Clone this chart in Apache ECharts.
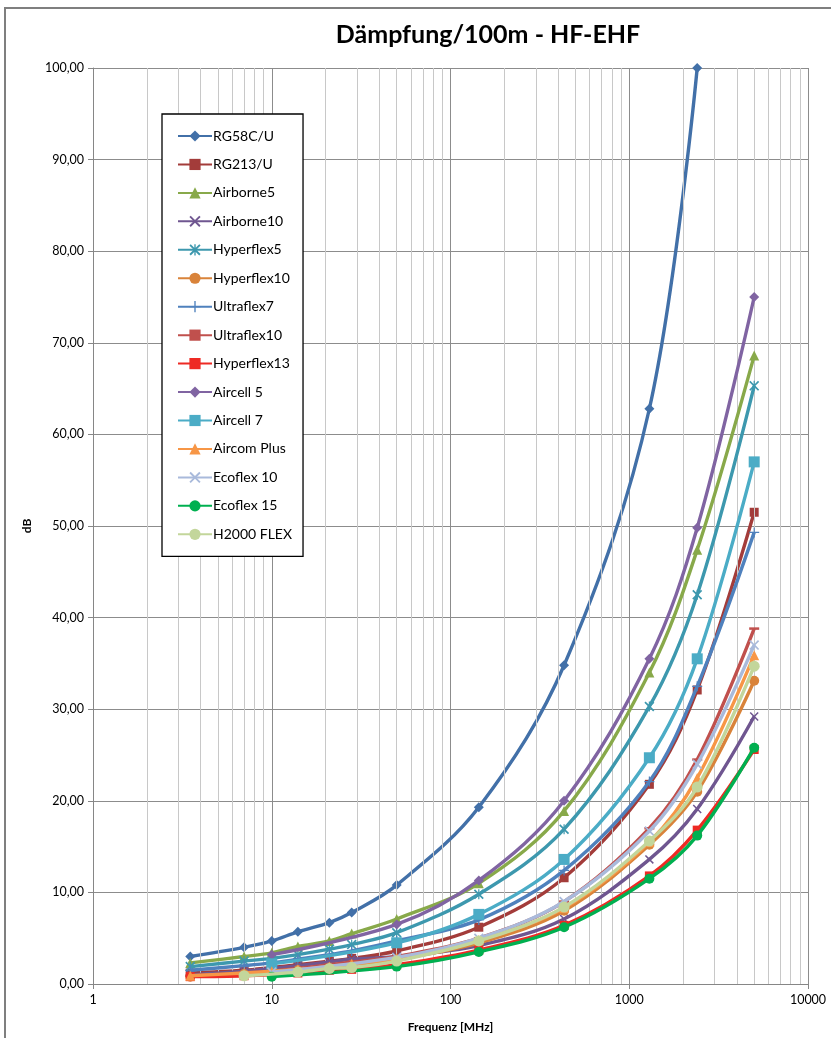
<!DOCTYPE html>
<html><head><meta charset="utf-8">
<script src="https://cdn.jsdelivr.net/npm/echarts@6/dist/echarts.min.js"></script>
<style>html,body{margin:0;padding:0;background:#fff}#c{width:831px;height:1038px}</style>
</head><body><div id="c"></div>
<script>
const freqs = [3.5, 7, 10, 14, 21, 28, 50, 144, 432, 1296, 2400, 5000];
const rg58 =        [3.0, 4.0, 4.7, 5.7, 6.7, 7.8, 10.8, 19.3, 34.8, 62.8, 100, null];
const rg213 =       [1.2, 1.5, 1.8, 2.1, 2.5, 2.8, 3.6, 6.2, 11.6, 21.8, 32.1, 51.5];
const airborne5 =   [2.3, 3.0, 3.4, 4.1, 4.7, 5.5, 7.1, 11.0, 18.9, 34.0, 47.4, 68.6];
const airborne10 =  [1.0, 1.4, 1.7, 2.0, 2.4, 2.7, 3.0, 4.2, 7.1, 13.6, 19.1, 29.2];
const hyperflex5 =  [1.9, 2.5, 2.8, 3.2, 3.8, 4.3, 5.6, 9.8, 16.9, 30.3, 42.5, 65.3];
const hyperflex10 = [0.8, 1.1, 1.3, 1.5, 1.8, 2.1, 2.7, 4.5, 8.0, 15.2, 21.0, 33.1];
const ultraflex7 =  [1.5, 2.0, 2.3, 2.7, 3.2, 3.6, 4.7, 7.0, 12.4, 22.1, 32.5, 49.3];
const ultraflex10 = [0.9, 1.2, 1.4, 1.7, 2.1, 2.4, 3.0, 5.0, 9.0, 17.0, 24.5, 38.8];
const hyperflex13 = [0.8, 0.9, null, 1.2, 1.5, 1.6, 2.1, 3.7, 6.4, 11.8, 16.8, 25.6];
const aircell5 =    [null, null, 3.2, null, null, null, 6.5, 11.3, 20.0, 35.5, 49.8, 75.0];
const aircell7 =    [null, null, 2.2, null, null, null, 4.5, 7.6, 13.6, 24.7, 35.5, 57.0];
const aircomPlus =  [0.9, 1.2, 1.4, 1.6, 1.9, 2.2, 2.8, 4.8, 8.3, 15.5, 22.5, 35.9];
const ecoflex10 =   [null, null, 1.3, null, null, null, 2.9, 5.0, 9.0, 16.7, 24.0, 37.0];
const ecoflex15 =   [null, null, 0.8, null, null, null, 1.9, 3.5, 6.2, 11.5, 16.2, 25.8];
const h2000 =       [null, 0.9, null, 1.3, 1.7, 1.8, 2.5, 4.7, 8.4, 15.6, 21.5, 34.7];
const xTickLabels = [1, 10, 100, 1000, 10000];

const SYM_X = 'path://M0,1.2 L1.2,0 L5,3.8 L8.8,0 L10,1.2 L6.2,5 L10,8.8 L8.8,10 L5,6.2 L1.2,10 L0,8.8 L3.8,5 Z';
const SYM_AST = 'path://M0,1.2 L1.2,0 L5,3.8 L8.8,0 L10,1.2 L6.2,5 L10,8.8 L8.8,10 L5,6.2 L1.2,10 L0,8.8 L3.8,5 Z M4.4,0 L5.6,0 L5.6,10 L4.4,10 Z';
const SYM_PLUS = 'path://M4.4,0 H5.6 V4.4 H10 V5.6 H5.6 V10 H4.4 V5.6 H0 V4.4 H4.4 Z';
const SYM_DASH = 'path://M0,0 H10 V2 H0 Z';

const defs = [
  ['RG58C/U', rg58, '#4270a8', 'diamond', 10],
  ['RG213/U', rg213, '#a33c3a', 'rect', 9],
  ['Airborne5', airborne5, '#88a94a', 'triangle', 10],
  ['Airborne10', airborne10, '#6f5690', SYM_X, 9],
  ['Hyperflex5', hyperflex5, '#3d98ae', SYM_AST, 10],
  ['Hyperflex10', hyperflex10, '#d9833a', 'circle', 10],
  ['Ultraflex7', ultraflex7, '#4f81bd', SYM_PLUS, 10],
  ['Ultraflex10', ultraflex10, '#c0504d', SYM_DASH, [10, 2.5]],
  ['Hyperflex13', hyperflex13, '#ee2a24', 'rect', 9],
  ['Aircell 5', aircell5, '#8064a2', 'diamond', 10],
  ['Aircell 7', aircell7, '#4bacc6', 'rect', 11],
  ['Aircom Plus', aircomPlus, '#f79646', 'triangle', 10],
  ['Ecoflex 10', ecoflex10, '#a9badb', SYM_X, 10],
  ['Ecoflex 15', ecoflex15, '#00b050', 'circle', 10],
  ['H2000 FLEX', h2000, '#c3d69b', 'circle', 11]
];

const minorGrid = [];
[1, 10, 100, 1000].forEach(d => { for (let k = 2; k <= 9; k++) minorGrid.push({ xAxis: d * k }); });

const series = defs.map((d, idx) => ({
  name: d[0], type: 'line', smooth: 0.35,
  data: freqs.map((f, i) => [f, d[1][i]]).filter(p => p[1] !== null),
  symbol: d[3], symbolSize: d[4], showSymbol: true, symbolKeepAspect: false,
  lineStyle: { color: d[2], width: 3.4 },
  itemStyle: { color: d[2] },
  z: 3 + idx, animation: false
}));
series.push({
  name: '_grid', type: 'line', data: [], silent: true, z: 1,
  markLine: {
    silent: true, symbol: 'none', animation: false, label: { show: false },
    lineStyle: { color: '#c8c8c8', width: 1, type: 'solid' },
    data: minorGrid
  }
});

const chart = echarts.init(document.getElementById('c'));
chart.setOption({
  backgroundColor: '#fff',
  animation: false,
  title: {
    text: 'Dämpfung/100m - HF-EHF', left: 483, top: 17, textAlign: 'center',
    textStyle: { fontFamily: 'Lato', fontWeight: 'bold', fontSize: 25, color: '#000' }
  },
  graphic: [{
    type: 'rect', shape: { x: 5, y: 8, width: 840, height: 1040 },
    style: { fill: 'none', stroke: '#7f7f7f', lineWidth: 2 }, silent: true, z: -1
  }],
  grid: { left: 93, right: 23, top: 68, bottom: 53, containLabel: false },
  legend: {
    data: defs.map(d => d[0]),
    orient: 'vertical', left: 162, top: 114,
    padding: [15, 11, 15, 15], itemGap: 14.45, itemWidth: 34, itemHeight: 14,
    backgroundColor: '#fff', borderColor: '#000', borderWidth: 1.3,
    textStyle: { fontFamily: 'Lato', fontSize: 14, color: '#000', padding: [0, 0, 0, -4] },
    z: 20
  },
  xAxis: {
    type: 'log', logBase: 10, min: 1, max: 10000,
    name: 'Frequenz [MHz]', nameLocation: 'middle', nameGap: 37,
    nameTextStyle: { fontFamily: 'Lato', fontWeight: 'bold', fontSize: 12, color: '#000' },
    axisLine: { show: true, lineStyle: { color: '#868686', width: 1 } },
    axisTick: { show: true, length: 5, lineStyle: { color: '#868686' } },
    axisLabel: { fontFamily: 'Lato', fontSize: 12.5, color: '#000', margin: 9,
      formatter: v => xTickLabels.includes(Math.round(v)) ? String(Math.round(v)) : '' },
    splitLine: { show: true, lineStyle: { color: '#8c8c8c', width: 1 } },
    minorTick: { show: false }, minorSplitLine: { show: false }
  },
  yAxis: {
    type: 'value', min: 0, max: 100, interval: 10,
    name: 'dB', nameLocation: 'middle', nameGap: 60, nameRotate: 90,
    nameTextStyle: { fontFamily: 'Lato', fontWeight: 'bold', fontSize: 12, color: '#000' },
    axisLine: { show: true, lineStyle: { color: '#868686', width: 1 } },
    axisTick: { show: true, length: 5, lineStyle: { color: '#868686' } },
    axisLabel: { fontFamily: 'Lato', fontSize: 12.5, color: '#000', margin: 9,
      formatter: v => v.toFixed(2).replace('.', ',') },
    splitLine: { show: true, lineStyle: { color: '#8c8c8c', width: 1 } }
  },
  series: series
});
</script></body></html>
